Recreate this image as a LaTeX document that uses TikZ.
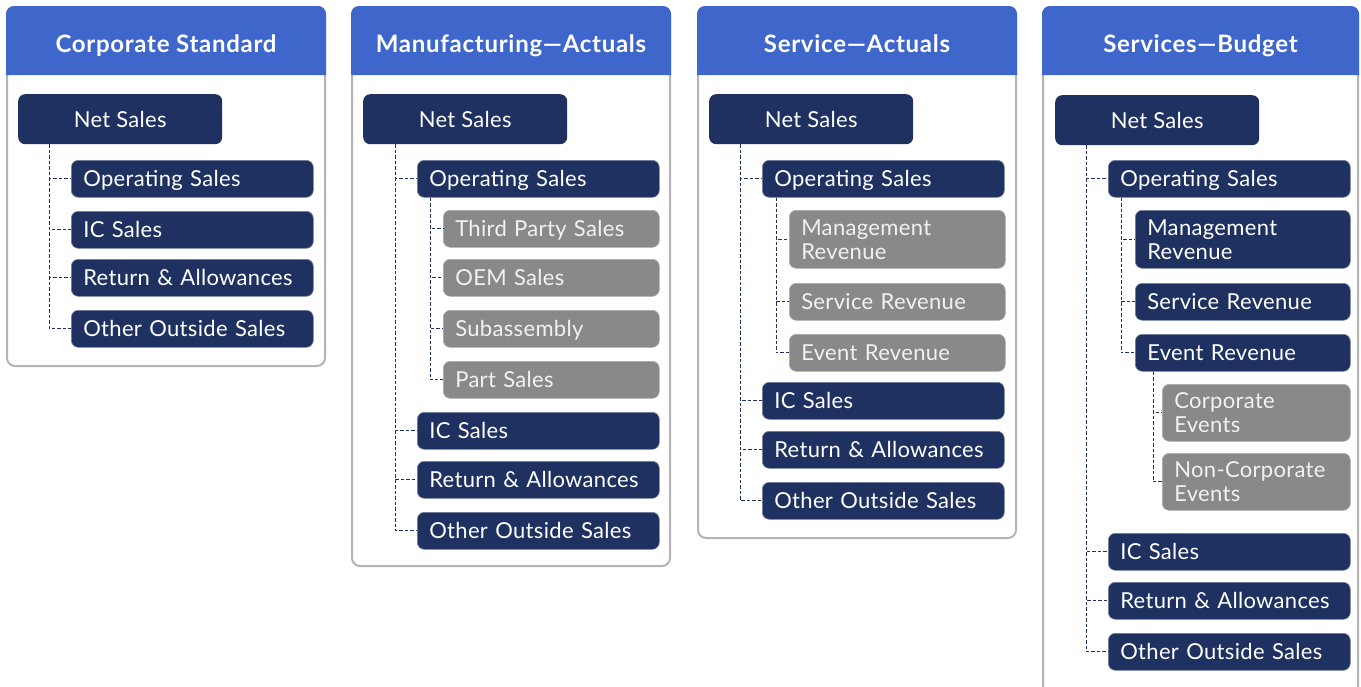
\documentclass[tikz,border=0pt]{standalone}
\usepackage{fontspec}
\setmainfont{Lato}
\newfontfamily\boxface[LetterSpace=1.5]{Lato}
\newfontfamily\titleface[LetterSpace=3]{Lato}
\definecolor{navy}{HTML}{1F3160}
\definecolor{hdrblue}{HTML}{3F66CB}
\definecolor{boxgrey}{HTML}{898989}
\definecolor{frame}{HTML}{B4B4B4}
\newcommand{\boxfont}{\boxface\fontsize{22}{24}\selectfont}

\begin{document}
\begin{tikzpicture}[x=1pt,y=-1pt,
  topbox/.style={rounded corners=7pt, fill=navy, text=white, font=\boxfont,
    anchor=north west, minimum width=204pt, minimum height=50pt, text depth=0pt},
  darkbox/.style={rounded corners=7pt, fill=navy, draw=navy!60!white, line width=.6pt,
    text=white, font=\boxfont, anchor=north west, align=left, inner xsep=12pt,
    minimum height=37pt, text depth=0pt, text width=#1},
  darkbox/.default=218pt,
  greybox/.style={darkbox=#1, fill=boxgrey, draw=boxgrey!70!white, text=white!95!black},
  greybox/.default=192pt,
  twoline/.style={minimum height=#1, text depth=24pt},
  twoline/.default=58pt,
  link/.style={navy, line width=.8pt, dash pattern=on 3.5pt off 2pt},
  title/.style={text=white, anchor=base, font=\titleface\fontsize{24}{26}\selectfont\bfseries}]
\useasboundingbox (0,0) rectangle (1361,686);
\clip (0,0) rectangle (1361,686);

% panels
\foreach \x/\w/\b/\t in {7/318/366/Corporate Standard, 352/318/566/Manufacturing—Actuals,
    698/318/538/Service—Actuals, 1043/315/720/Services—Budget}{
  \draw[frame, line width=2pt, rounded corners=8pt, fill=white] (\x,7) rectangle (\x+\w,\b);
  \fill[hdrblue] (\x-1,75) [rounded corners=8pt] -- (\x-1,6) -- (\x+\w+1,6) [sharp corners] -- (\x+\w+1,75) -- cycle;
  \node[title] at (\x+\w/2,52) {\t};
}

% Corporate Standard
\node[topbox] (net1) at (18,94) {Net Sales};
\node[darkbox] (a1op) at (71,160) {Operating Sales};
\node[darkbox] (a1ic) at (71,211) {IC Sales};
\node[darkbox] (a1ret) at (71,259) {Return \& Allowances};
\node[darkbox] (a1oth) at (71,310) {Other Outside Sales};
\foreach \n in {a1op,a1ic,a1ret,a1oth}
  \draw[link] ([xshift=31pt]net1.south west) |- (\n.west);

% Manufacturing
\node[topbox] (net2) at (363,94) {Net Sales};
\node[darkbox] (b2op) at (417,160) {Operating Sales};
\node[greybox] (b2tp) at (443,210) {Third Party Sales};
\node[greybox] (b2oem) at (443,259) {OEM Sales};
\node[greybox] (b2sub) at (443,310) {Subassembly};
\node[greybox] (b2part) at (443,361) {Part Sales};
\node[darkbox] (b2ic) at (417,412) {IC Sales};
\node[darkbox] (b2ret) at (417,461) {Return \& Allowances};
\node[darkbox] (b2oth) at (417,512) {Other Outside Sales};
\foreach \n in {b2op,b2ic,b2ret,b2oth}
  \draw[link] ([xshift=32pt]net2.south west) |- (\n.west);
\foreach \n in {b2tp,b2oem,b2sub,b2part}
  \draw[link] ([xshift=13pt]b2op.south west) |- (\n.west);

% Service actuals
\node[topbox] (net3) at (709,94) {Net Sales};
\node[darkbox] (c3op) at (762,160) {Operating Sales};
\node[greybox, twoline] (c3mgt) at (789,210) {Management\\Revenue};
\node[greybox] (c3srv) at (789,283) {Service Revenue};
\node[greybox] (c3evt) at (789,334) {Event Revenue};
\node[darkbox] (c3ic) at (762,382) {IC Sales};
\node[darkbox] (c3ret) at (762,431) {Return \& Allowances};
\node[darkbox] (c3oth) at (762,482) {Other Outside Sales};
\foreach \n in {c3op,c3ic,c3ret,c3oth}
  \draw[link] ([xshift=31pt]net3.south west) |- (\n.west);
\foreach \n in {c3mgt,c3srv,c3evt}
  \draw[link] ([xshift=14pt]c3op.south west) |- (\n.west);

% Services budget
\node[topbox] (net4) at (1055,95) {Net Sales};
\node[darkbox] (d4op) at (1108,160) {Operating Sales};
\node[darkbox=191pt, twoline] (d4mgt) at (1135,210) {Management\\Revenue};
\node[darkbox=191pt] (d4srv) at (1135,283) {Service Revenue};
\node[darkbox=191pt] (d4evt) at (1135,334) {Event Revenue};
\node[greybox=164pt, twoline=57pt] (d4corp) at (1162,384) {Corporate\\Events};
\node[greybox=164pt, twoline=57pt] (d4non) at (1162,453) {Non-Corporate\\Events};
\node[darkbox] (d4ic) at (1108,533) {IC Sales};
\node[darkbox] (d4ret) at (1108,582) {Return \& Allowances};
\node[darkbox] (d4oth) at (1108,633) {Other Outside Sales};
\foreach \n in {d4op,d4ic,d4ret,d4oth}
  \draw[link] ([xshift=31pt]net4.south west) |- (\n.west);
\foreach \n in {d4mgt,d4srv,d4evt}
  \draw[link] ([xshift=13pt]d4op.south west) |- (\n.west);
\foreach \n in {d4corp,d4non}
  \draw[link] ([xshift=18pt]d4evt.south west) |- (\n.west);
\end{tikzpicture}
\end{document}
